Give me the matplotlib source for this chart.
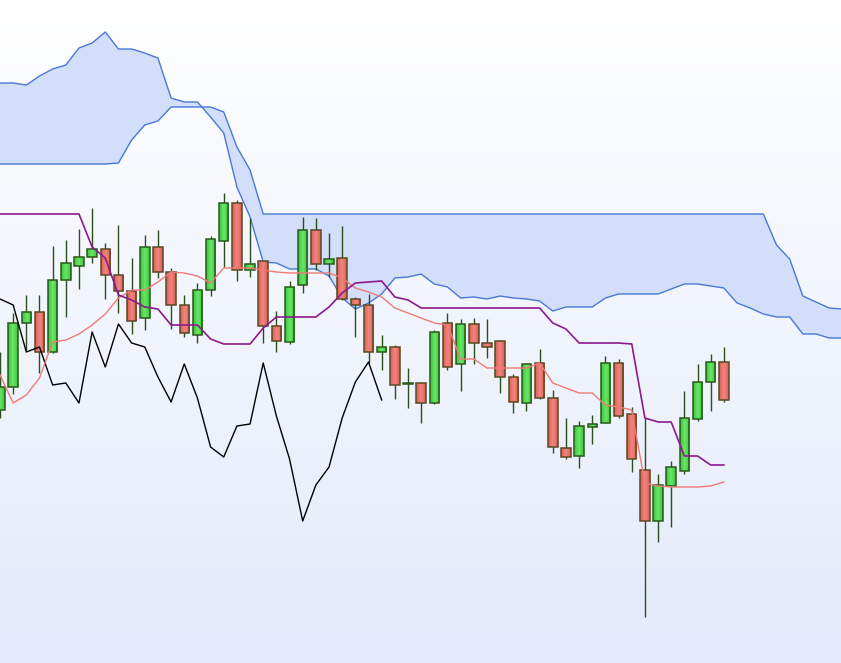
import numpy as np
import pandas as pd
import matplotlib
matplotlib.use('Agg')
import matplotlib.pyplot as plt
from matplotlib.colors import LinearSegmentedColormap
from matplotlib.patches import Rectangle

# candle data (56 sessions)
opens = [29.0, 31.3, 37.7, 38.8, 34.8, 42.0, 43.4, 44.3, 45.1, 42.5,
         40.9, 38.2, 45.3, 42.8, 39.5, 36.5, 41.0, 45.9, 49.7, 43.0,
         43.9, 37.4, 35.8, 41.5, 47.0, 43.6, 44.2, 40.1, 39.5, 34.8,
         35.3, 31.6, 31.7, 29.7, 37.7, 33.6, 37.6, 35.7, 35.9, 32.3,
         29.7, 33.7, 30.2, 25.2, 24.4, 27.3, 27.7, 33.7, 28.6, 23.0,
         17.9, 21.4, 22.9, 28.1, 31.8, 33.8]
highs = [34.8, 38.7, 40.5, 40.5, 45.4, 46.0, 47.1, 49.2, 45.7, 47.5,
         44.2, 46.5, 47.0, 43.2, 40.5, 41.7, 46.4, 50.7, 50.0, 48.2,
         43.9, 38.9, 41.9, 48.3, 48.2, 46.7, 47.4, 40.3, 40.6, 36.5,
         35.5, 33.2, 31.8, 37.0, 38.7, 38.1, 38.2, 38.1, 36.0, 32.6,
         33.7, 35.1, 31.0, 28.2, 27.9, 28.5, 34.4, 34.1, 29.3, 28.2,
         22.6, 23.9, 30.9, 33.6, 34.6, 35.3]
lows = [28.2, 30.6, 35.0, 32.7, 34.7, 38.3, 41.1, 43.7, 40.1, 38.7,
        36.6, 37.0, 42.2, 37.1, 36.3, 35.7, 40.4, 43.3, 41.9, 42.3,
        35.7, 34.8, 35.6, 40.7, 43.0, 42.3, 40.0, 36.3, 33.7, 33.0,
        30.1, 29.2, 27.7, 29.6, 33.0, 30.9, 33.6, 34.2, 30.7, 28.7,
        28.9, 30.1, 24.7, 24.1, 23.2, 25.6, 27.7, 28.2, 22.8, 8.3,
        15.8, 17.3, 22.6, 27.9, 28.9, 29.8]
closes = [31.3, 37.7, 38.8, 34.8, 42.0, 43.7, 44.3, 45.1, 42.5, 40.9,
          37.9, 45.3, 42.8, 39.5, 36.7, 41.0, 46.1, 49.7, 43.0, 43.6,
          37.4, 35.9, 41.3, 47.0, 43.6, 44.1, 40.1, 39.5, 34.8, 35.3,
          31.5, 31.7, 29.7, 36.8, 33.3, 37.6, 35.7, 35.3, 32.3, 29.8,
          33.6, 30.2, 25.3, 24.3, 27.4, 27.6, 33.7, 28.4, 24.1, 17.9,
          21.5, 23.3, 28.2, 31.8, 33.8, 30.0]

# ichimoku lines
tenkan = [32.5, 29.7, 30.5, 32.2, 35.8, 36.0, 36.6, 37.5, 38.6, 40.2,
          41.0, 41.0, 41.8, 42.8, 42.7, 42.4, 41.7, 43.2, 43.2, 43.2,
          43.0, 42.8, 42.7, 42.7, 42.7, 42.7, 42.2, 41.2, 40.8, 40.3,
          39.2, 38.7, 38.2, 37.7, 37.5, 34.1, 34.1, 33.2, 33.2, 33.2,
          33.2, 33.7, 31.7, 31.2, 30.7, 30.7, 29.5, 29.3, 29.0, 21.7,
          21.4, 21.3, 21.3, 21.3, 21.4, 21.8]
kijun = [48.6, 48.6, 48.6, 48.6, 48.6, 48.6, 48.6, 45.3, 44.2, 40.5,
         40.0, 39.3, 39.1, 37.5, 37.5, 37.5, 36.1, 35.6, 35.6, 35.6,
         37.2, 38.3, 38.3, 38.3, 38.3, 39.3, 40.7, 41.7, 41.8, 41.9,
         40.3, 40.0, 39.2, 39.2, 39.2, 39.2, 39.2, 39.2, 39.2, 39.2,
         39.2, 39.2, 37.7, 37.1, 35.7, 35.7, 35.7, 35.7, 35.6, 28.2,
         27.8, 27.8, 24.4, 24.4, 23.5, 23.5]
senkou_a = [61.7, 61.7, 61.5, 62.4, 63.1, 63.5, 65.2, 65.7, 66.8, 65.1,
            65.1, 64.7, 64.2, 60.2, 59.8, 59.8, 58.3, 56.7, 51.3, 48.3,
            43.8, 43.7, 43.1, 43.1, 43.1, 42.4, 40.2, 39.1, 39.7, 40.6,
            42.2, 42.3, 42.6, 41.6, 41.3, 40.2, 40.3, 40.1, 40.4, 40.2,
            40.1, 39.9, 38.9, 39.3, 39.3, 39.3, 40.2, 40.6, 40.6, 40.6,
            40.6, 41.1, 41.6, 41.6, 41.4, 41.2, 39.7, 39.2, 38.6, 38.3,
            38.3, 36.6, 36.6, 36.2, 36.2]
senkou_b = [53.6, 53.6, 53.6, 53.6, 53.6, 53.6, 53.6, 53.6, 53.6, 53.7,
            56.0, 57.5, 57.9, 59.3, 59.3, 59.3, 59.3, 58.8, 55.3, 53.0,
            48.6, 48.6, 48.6, 48.6, 48.6, 48.6, 48.6, 48.6, 48.6, 48.6,
            48.6, 48.6, 48.6, 48.6, 48.6, 48.6, 48.6, 48.6, 48.6, 48.6,
            48.6, 48.6, 48.6, 48.6, 48.6, 48.6, 48.6, 48.6, 48.6, 48.6,
            48.6, 48.6, 48.6, 48.6, 48.6, 48.6, 48.6, 48.6, 48.6, 45.5,
            44.1, 40.4, 39.8, 39.2, 39.1]

df = pd.DataFrame({'open': opens, 'high': highs, 'low': lows, 'close': closes})
# lagging span: close plotted 26 sessions back
chikou = df['close'].shift(-26)
idx = np.arange(len(df))
cloud_idx = np.arange(len(senkou_a))

x_min, x_max = 0, 63.9
y_min, y_max = 3.7, 70.0
body_w = 0.72

fig = plt.figure(figsize=(8.41, 6.63), dpi=100)
ax = fig.add_axes([0, 0, 1, 1])
ax.axis('off')

# background gradient
bg = LinearSegmentedColormap.from_list('bg', ['#ffffff', '#e3eafb'])
ax.imshow(np.linspace(0, 1, 256).reshape(-1, 1), cmap=bg, aspect='auto',
          extent=[x_min, x_max, y_min, y_max], zorder=0)

# cloud
ax.fill_between(cloud_idx, senkou_a, senkou_b, color='#d3defb', lw=0, zorder=1)
ax.plot(cloud_idx, senkou_a, color='#4a78d6', lw=1.0, zorder=2)
ax.plot(cloud_idx, senkou_b, color='#4a78d6', lw=1.0, zorder=2)

# candles: wicks, shaded bodies, outlines
ax.vlines(idx, df['low'], df['high'], color='#2a4f1a', lw=1.0, zorder=3)

up_cmap = LinearSegmentedColormap.from_list('up', ['#66e666', '#3cc43c'])
down_cmap = LinearSegmentedColormap.from_list('down', ['#f0847c', '#dc5f57'])
shade = np.abs(np.linspace(-1, 1, 24)).reshape(1, -1)

for i, row in df.iterrows():
    up = row['close'] >= row['open']
    bottom = min(row['open'], row['close'])
    top = max(row['open'], row['close'])
    if top - bottom < 0.1:
        top = bottom + 0.1
    ax.imshow(shade, cmap=up_cmap if up else down_cmap, aspect='auto',
              interpolation='bilinear',
              extent=[i - body_w / 2, i + body_w / 2, bottom, top], zorder=4)
    ax.add_patch(Rectangle((i - body_w / 2, bottom), body_w, top - bottom,
                           facecolor='none', lw=1.1, zorder=4.5,
                           edgecolor='#2a5a1a' if up else '#5a4a22'))

# lines
ax.plot(idx, chikou, color='black', lw=1.0, zorder=5)
ax.plot(idx, tenkan, color='#f07a78', lw=1.0, zorder=5)
ax.plot(idx, kijun, color='#8e1a8e', lw=1.2, zorder=5)

ax.set_xlim(x_min, x_max)
ax.set_ylim(y_min, y_max)

fig.savefig('out.png', dpi=100)
